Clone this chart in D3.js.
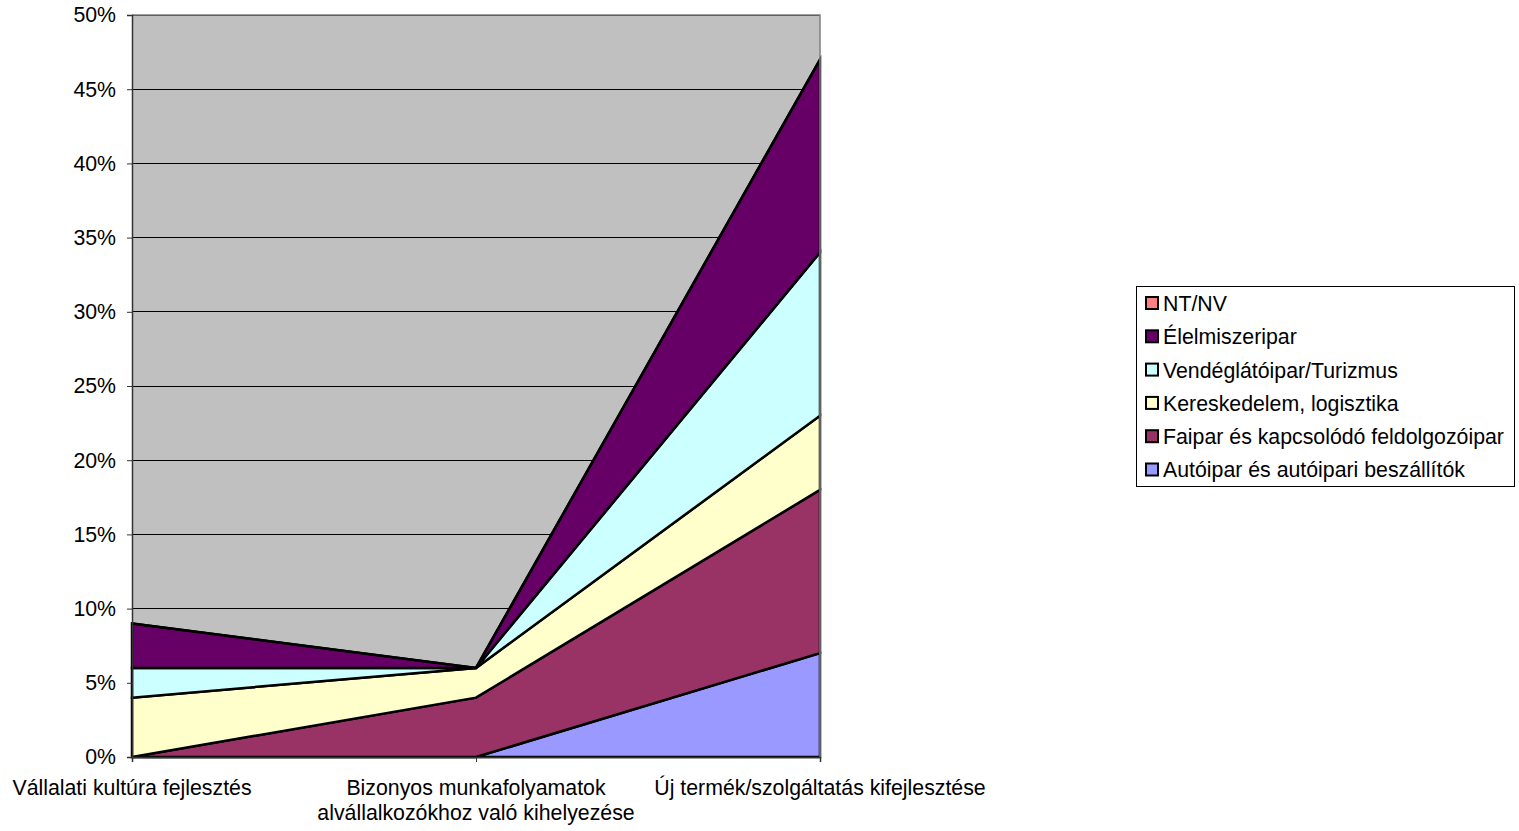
<!DOCTYPE html>
<html><head><meta charset="utf-8">
<script src="https://cdn.jsdelivr.net/npm/d3@7"></script>
<style>body{margin:0;background:#fff}svg{display:block}text{font-family:"Liberation Sans",Arial,sans-serif;fill:#000}</style>
</head><body>
<script>
const categories = [["Vállalati kultúra fejlesztés"], ["Bizonyos munkafolyamatok", "alvállalkozókhoz való kihelyezése"], ["Új termék/szolgáltatás kifejlesztése"]];
const seriesNames = ["Autóipar és autóipari beszállítók", "Faipar és kapcsolódó feldolgozóipar", "Kereskedelem, logisztika", "Vendéglátóipar/Turizmus", "Élelmiszeripar", "NT/NV"];
const autoipar = [0, 0, 7];
const faipar = [0, 4, 11];
const kereskedelem = [4, 2, 5];
const vendeglato = [2, 0, 11];
const elelmiszer = [3, 0, 13];
const ntnv = [0, 0, 0];
const colors = ["#9999FF", "#993366", "#FFFFCC", "#CCFFFF", "#660066", "#FF8080"];
const yTicks = [0, 5, 10, 15, 20, 25, 30, 35, 40, 45, 50];

const W = 1519, H = 831, FS = 21.3;
const m = {l: 132, r: 820, t: 15, b: 757};
const svg = d3.select("body").append("svg").attr("width", W).attr("height", H);

const values = [autoipar, faipar, kereskedelem, vendeglato, elelmiszer, ntnv];
const rows = categories.map((c, i) => { const o = {i}; values.forEach((v, k) => o["s" + k] = v[i]); return o; });
const stack = d3.stack().keys(values.map((v, k) => "s" + k))(rows);

const x = d3.scalePoint().domain(d3.range(categories.length)).range([m.l, m.r]);
const y = d3.scaleLinear().domain([0, 50]).range([m.b, m.t]);

svg.append("rect").attr("x", m.l).attr("y", m.t).attr("width", m.r - m.l).attr("height", m.b - m.t).attr("fill", "#C0C0C0");
svg.append("g").selectAll("line").data(yTicks.slice(1)).join("line")
  .attr("x1", m.l).attr("x2", m.r).attr("y1", d => y(d)).attr("y2", d => y(d)).attr("stroke", "#000").attr("stroke-width", 1).attr("shape-rendering", "crispEdges");

const area = d3.area().x(d => x(d.data.i)).y0(d => y(d[0])).y1(d => y(d[1]));
svg.append("g").selectAll("path").data(stack).join("path")
  .attr("d", area).attr("fill", (d, k) => colors[k]).attr("stroke", "#000").attr("stroke-width", 2.5).attr("stroke-linejoin", "miter");

svg.append("path").attr("d", `M${m.l},${m.t}H${m.r}V${m.b}`).attr("fill", "none").attr("stroke", "#808080").attr("stroke-width", 1.5);

const yAxis = svg.append("g").attr("transform", `translate(${m.l},0)`)
  .call(d3.axisLeft(y).tickValues(yTicks).tickFormat(d => d + "%").tickSize(5).tickPadding(11));
const xAxis = svg.append("g").attr("transform", `translate(0,${m.b})`)
  .call(d3.axisBottom(x).tickSize(5).tickFormat(""));
[yAxis, xAxis].forEach(a => { a.select(".domain").attr("stroke", "#333").attr("stroke-width", 1.5); a.selectAll(".tick line").attr("stroke", "#333"); });
yAxis.selectAll("text").attr("font-size", FS).attr("font-family", "Liberation Sans, Arial, sans-serif").attr("fill", "#000");

const cl = svg.append("g");
categories.forEach((lines, i) => {
  lines.forEach((t, j) => cl.append("text").attr("x", x(i)).attr("y", 795 + j * 24.5).attr("text-anchor", "middle").attr("font-size", FS).text(t));
});

const lg = svg.append("g");
lg.append("rect").attr("x", 1136.5).attr("y", 286.5).attr("width", 378).attr("height", 200).attr("fill", "#fff").attr("stroke", "#000");
const legendOrder = d3.range(seriesNames.length).reverse();
legendOrder.forEach((k, j) => {
  const cy = 303.5 + j * 33.3;
  lg.append("rect").attr("x", 1146).attr("y", cy - 6.5).attr("width", 12).attr("height", 12).attr("fill", colors[k]).attr("stroke", "#000").attr("stroke-width", 2);
  lg.append("text").attr("x", 1163).attr("y", cy).attr("dy", "0.35em").attr("font-size", FS).text(seriesNames[k]);
});
</script>
</body></html>
